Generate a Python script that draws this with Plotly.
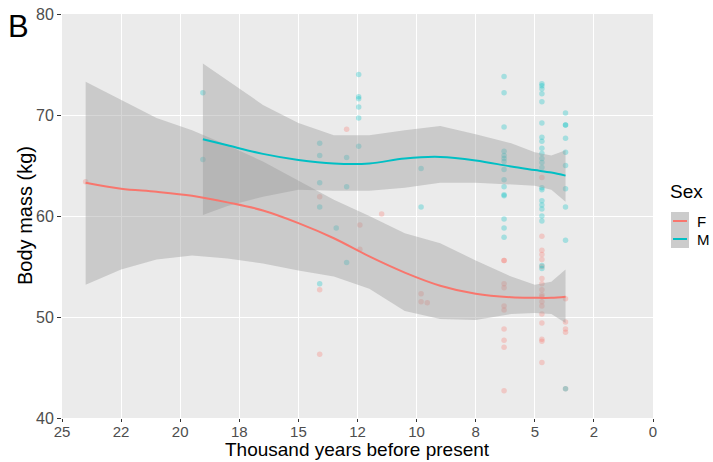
import plotly.graph_objects as go

# ---------------- data ----------------
# Fitted loess curves (Thousand years BP, body mass kg) with 95% CI
f_x = [24.0, 22.5, 21.0, 19.5, 18.0, 16.5, 15.0, 13.5, 12.0, 10.5, 9.0, 7.5, 6.0, 5.0, 4.3, 3.7]
f_fit = [63.3, 62.7, 62.4, 62.0, 61.35, 60.55, 59.3, 57.8, 56.0, 54.4, 53.1, 52.3, 51.95, 51.9, 51.9, 52.0]
f_upper = [73.3, 71.5, 69.7, 68.5, 67.0, 65.4, 63.5, 61.6, 60.0, 58.3, 57.3, 55.6, 54.0, 53.2, 53.5, 54.7]
f_lower = [53.2, 54.7, 55.7, 56.1, 55.8, 55.3, 54.6, 54.0, 52.8, 50.6, 49.8, 49.7, 50.3, 50.4, 50.3, 49.4]

m_x = [19.04, 18.0, 16.5, 15.0, 13.5, 12.0, 10.5, 9.0, 7.5, 6.0, 5.0, 4.3, 3.7]
m_fit = [67.6, 67.0, 66.15, 65.55, 65.2, 65.2, 65.7, 65.85, 65.5, 64.9, 64.55, 64.3, 64.0]
m_upper = [75.1, 73.4, 71.0, 69.2, 68.0, 68.0, 68.5, 68.9, 68.1, 67.2, 66.3, 66.0, 66.5]
m_lower = [60.1, 61.0, 61.9, 62.6, 62.5, 62.5, 62.8, 63.3, 63.3, 63.1, 63.0, 62.6, 61.4]

# Individual specimens
f_pts_x = [24.0,
           14.1, 14.1, 14.1,
           12.96,
           12.4, 12.4,
           11.48,
           9.81, 9.81, 9.55,
           6.3, 6.3, 6.3, 6.3, 6.3, 6.3, 6.3, 6.3, 6.3, 6.3,
           4.7, 4.7, 4.7, 4.7, 4.7, 4.7, 4.7, 4.7, 4.7, 4.7, 4.7, 4.7, 4.7, 4.7, 4.7, 4.7, 4.7, 4.7,
           3.7, 3.7, 3.7, 3.7, 3.7]
f_pts_y = [63.4,
           61.9, 52.7, 46.3,
           68.6,
           59.1, 56.7,
           60.2,
           52.3, 51.5, 51.4,
           55.6, 55.6, 53.3, 52.9, 51.1, 50.7, 48.8, 47.7, 47.0, 42.7,
           63.8, 58.0, 56.6, 56.2, 55.7, 55.0, 53.8, 53.3, 52.7, 52.2, 52.0, 51.5, 51.1, 50.3, 49.4, 47.8, 47.6, 45.5,
           51.8, 49.5, 48.8, 48.5, 42.9]

m_pts_x = [19.04, 19.04,
           14.1, 14.1, 14.1, 14.1, 14.1,
           12.96, 12.96, 12.96, 13.4,
           12.45, 12.45, 12.45, 12.45, 12.45, 12.45,
           9.81, 9.81,
           6.3, 6.3, 6.3, 6.3, 6.3, 6.3, 6.3, 6.3, 6.3, 6.3, 6.3, 6.3, 6.3, 6.3, 6.3,
           4.7, 4.7, 4.7, 4.7, 4.7, 4.7, 4.7, 4.7, 4.7, 4.7, 4.7, 4.7, 4.7, 4.7, 4.7,
           4.7, 4.7, 4.7, 4.7, 4.7, 4.7, 4.7,
           3.7, 3.7, 3.7, 3.7, 3.7, 3.7, 3.7, 3.7, 3.7, 3.7]
m_pts_y = [72.2, 65.6,
           67.2, 66.0, 63.3, 60.9, 53.3,
           65.8, 62.9, 55.4, 58.8,
           74.0, 71.8, 71.6, 70.8, 69.7, 66.9,
           64.7, 60.9,
           73.8, 72.2, 68.8, 66.4, 66.0, 65.7, 65.4, 64.6, 63.6, 62.9, 62.1, 62.0, 59.7, 58.8, 57.9,
           73.1, 72.9, 72.6, 72.1, 71.3, 69.2, 67.8, 67.4, 66.7, 66.2, 65.7, 65.3, 64.8, 62.8, 62.6,
           61.5, 61.1, 60.7, 60.0, 59.5, 55.1, 54.8,
           70.2, 69.0, 69.0, 67.7, 66.3, 65.0, 62.7, 60.9, 57.6, 42.9]

x_tickvals = [25, 22.5, 20, 17.5, 15, 12.5, 10, 7.5, 5, 2.5, 0]
x_ticktext = ["25", "22", "20", "18", "15", "12", "10", "8", "5", "2", "0"]
y_tickvals = [40, 50, 60, 70, 80]
x_title = "Thousand years before present"
y_title = "Body mass (kg)"

RED = "#F8766D"
CYAN = "#00BFC4"

# ---------------- figure ----------------
W, H = 713, 462
L, R, T, B = 62, 60, 14, 44
PW, PH = W - L - R, H - T - B


def px(xp):
    return (xp - L) / PW


def py(yp):
    return (H - B - yp) / PH


fig = go.Figure()

fig.add_trace(go.Scatter(x=f_pts_x, y=f_pts_y, mode="markers",
                         marker=dict(color=RED, size=5.5, opacity=0.3, line=dict(width=0)),
                         showlegend=False, hoverinfo="skip"))
fig.add_trace(go.Scatter(x=m_pts_x, y=m_pts_y, mode="markers",
                         marker=dict(color=CYAN, size=5.5, opacity=0.3, line=dict(width=0)),
                         showlegend=False, hoverinfo="skip"))

for xs, up, lo in [(f_x, f_upper, f_lower), (m_x, m_upper, m_lower)]:
    fig.add_trace(go.Scatter(x=list(xs) + list(xs)[::-1], y=list(up) + list(lo)[::-1],
                             mode="lines", fill="toself", fillcolor="rgba(153,153,153,0.4)",
                             line=dict(width=0), showlegend=False, hoverinfo="skip"))

fig.add_trace(go.Scatter(x=f_x, y=f_fit, mode="lines", line=dict(color=RED, width=2, shape="spline"),
                         showlegend=False))
fig.add_trace(go.Scatter(x=m_x, y=m_fit, mode="lines", line=dict(color=CYAN, width=2, shape="spline"),
                         showlegend=False))

# manual legend
shapes = [
    dict(type="rect", xref="paper", yref="paper", x0=px(671), x1=px(689), y0=py(230), y1=py(212),
         fillcolor="rgba(153,153,153,0.5)", line=dict(width=0)),
    dict(type="rect", xref="paper", yref="paper", x0=px(671), x1=px(689), y0=py(248), y1=py(230),
         fillcolor="rgba(153,153,153,0.5)", line=dict(width=0)),
    dict(type="line", xref="paper", yref="paper", x0=px(673), x1=px(687), y0=py(221), y1=py(221),
         line=dict(color=RED, width=2)),
    dict(type="line", xref="paper", yref="paper", x0=px(673), x1=px(687), y0=py(239), y1=py(239),
         line=dict(color=CYAN, width=2)),
]

annotations = [
    dict(text="Sex", xref="paper", yref="paper", x=px(668), y=py(192), xanchor="left", yanchor="middle",
         showarrow=False, font=dict(size=19, color="black")),
    dict(text="F", xref="paper", yref="paper", x=px(695), y=py(221), xanchor="left", yanchor="middle",
         showarrow=False, font=dict(size=15, color="black")),
    dict(text="M", xref="paper", yref="paper", x=px(695), y=py(239), xanchor="left", yanchor="middle",
         showarrow=False, font=dict(size=15, color="black")),
    dict(text="B", xref="paper", yref="paper", x=px(6), y=py(26), xanchor="left", yanchor="middle",
         showarrow=False, font=dict(size=31, color="black")),
    dict(text=x_title, xref="paper", yref="paper", x=0.5, y=py(461), xanchor="center", yanchor="bottom",
         borderpad=0, showarrow=False, font=dict(size=19, color="black")),
    dict(text=y_title, xref="paper", yref="paper", x=px(25), y=0.5, xanchor="center", yanchor="middle",
         textangle=-90, showarrow=False, font=dict(size=20, color="black")),
]

fig.update_layout(
    width=W, height=H,
    margin=dict(l=L, r=R, t=T, b=B, pad=0, autoexpand=False),
    paper_bgcolor="white",
    plot_bgcolor="#EBEBEB",
    font=dict(family="Liberation Sans, Arial, sans-serif"),
    showlegend=False,
    shapes=shapes,
    annotations=annotations,
    xaxis=dict(range=[25, 0], tickvals=x_tickvals, ticktext=x_ticktext, automargin=False,
               showgrid=True, gridcolor="white", gridwidth=1.2, zeroline=False, showline=False,
               ticks="outside", ticklen=3, tickcolor="#333333", tickwidth=1, ticklabelstandoff=-3,
               tickfont=dict(size=15, color="#4D4D4D")),
    yaxis=dict(range=[40, 80], tickvals=y_tickvals, automargin=False,
               showgrid=True, gridcolor="white", gridwidth=1.2, zeroline=False, showline=False,
               ticks="outside", ticklen=4, tickcolor="#333333", tickwidth=1,
               tickfont=dict(size=16, color="#4D4D4D")),
)

fig.write_html("out.html", config={"displayModeBar": False},
               post_script="document.body.style.margin='0';document.body.style.padding='0';")
